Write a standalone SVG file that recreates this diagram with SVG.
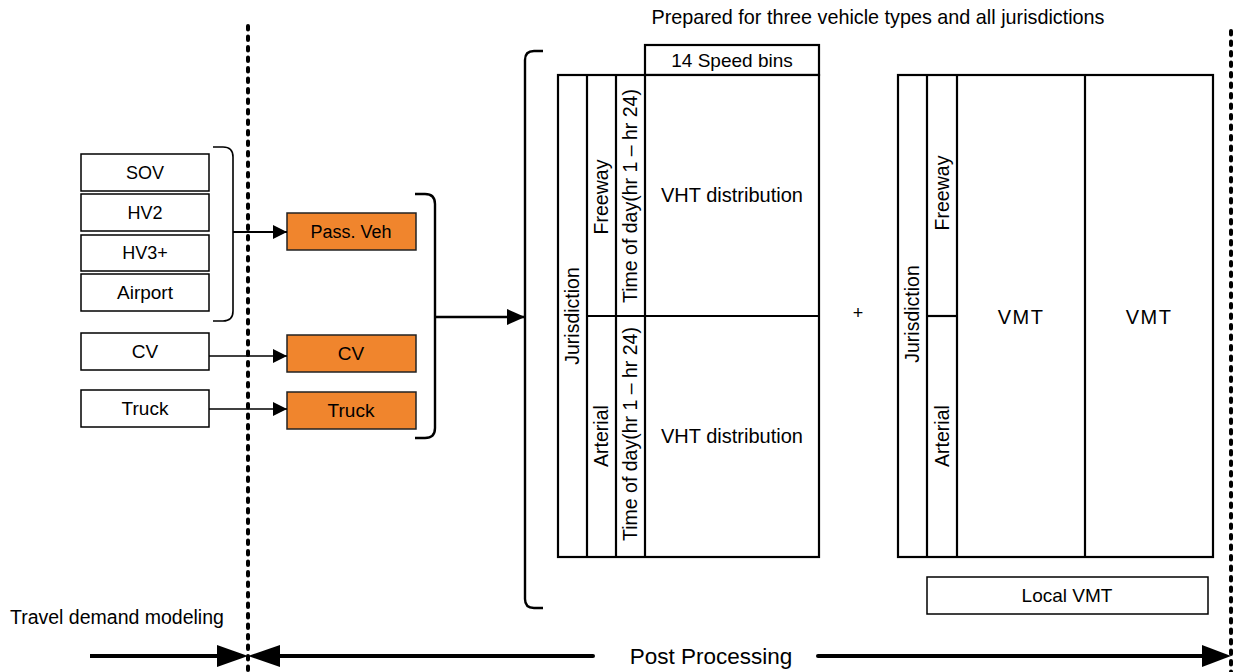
<svg xmlns="http://www.w3.org/2000/svg" width="1233" height="672" viewBox="0 0 1233 672">
<style>
  text { font-family: "Liberation Sans", Arial, sans-serif; fill: #000; }
  .lbl { font-size: 19px; text-anchor: middle; }
  .box { fill: #fff; stroke: #000; stroke-width: 1.5; }
  .obox { fill: #F0852D; stroke: #222; stroke-width: 1.5; }
  .tbl { fill: #fff; stroke: #000; stroke-width: 2.2; }
  .tl { stroke: #000; stroke-width: 2.2; fill: none; }
  .brace { fill: none; stroke: #000; stroke-width: 2; }
  .dots { stroke: #000; stroke-width: 4; stroke-linecap: round; stroke-dasharray: 3.5 7; fill: none; }
  .conn { stroke: #000; fill: none; }
  .big { stroke: #000; stroke-width: 4; fill: none; }
</style>
<defs>
  <marker id="ah" markerUnits="userSpaceOnUse" markerWidth="14" markerHeight="14" refX="14" refY="7" orient="auto">
    <path d="M0,0 L14,7 L0,14 Z" fill="#000"/>
  </marker>
  <marker id="ahBig" markerUnits="userSpaceOnUse" markerWidth="18" markerHeight="16" refX="18" refY="8" orient="auto">
    <path d="M0,0 L18,8 L0,16 Z" fill="#000"/>
  </marker>
</defs>
<rect width="1233" height="672" fill="#fff"/>

<!-- dividers -->
<g id="dividers">
  <line class="dots" x1="248" y1="26" x2="248" y2="672"/>
  <line class="dots" x1="1231" y1="31" x2="1231" y2="672"/>
</g>

<text x="878" y="24" style="font-size:19.8px" text-anchor="middle">Prepared for three vehicle types and all jurisdictions</text>

<!-- input nodes -->
<g id="sov"><rect class="box" x="81" y="154" width="128" height="37"/><text class="lbl" x="145" y="179" style="font-size:18px">SOV</text></g>
<g id="hv2"><rect class="box" x="81" y="194" width="128" height="37"/><text class="lbl" x="145" y="219" style="font-size:18px">HV2</text></g>
<g id="hv3"><rect class="box" x="81" y="235" width="128" height="36"/><text class="lbl" x="145" y="259" style="font-size:18px">HV3+</text></g>
<g id="airport"><rect class="box" x="81" y="274" width="128" height="37"/><text class="lbl" x="145" y="299">Airport</text></g>
<g id="cv-in"><rect class="box" x="81" y="333" width="128" height="37"/><text class="lbl" x="145" y="358">CV</text></g>
<g id="truck-in"><rect class="box" x="81" y="390" width="128" height="37"/><text class="lbl" x="145" y="415">Truck</text></g>

<!-- orange nodes -->
<g id="passveh"><rect class="obox" x="287" y="213" width="129" height="37"/><text class="lbl" x="351" y="238" style="font-size:18px">Pass. Veh</text></g>
<g id="cv-out"><rect class="obox" x="287" y="335" width="129" height="37"/><text class="lbl" x="351" y="360">CV</text></g>
<g id="truck-out"><rect class="obox" x="287" y="392" width="129" height="37"/><text class="lbl" x="351" y="417">Truck</text></g>

<!-- braces -->
<g id="braces">
  <path class="brace" d="M213,147 H223 Q233,147 233,157 V311 Q233,321 223,321 H213" style="stroke-width:1.6"/>
  <path class="brace" d="M415,194 H425 Q435,194 435,204 V428 Q435,438 425,438 H415" style="stroke-width:2.4"/>
  <path class="brace" d="M543,51 H534 Q525,51 525,60 V599 Q525,608 534,608 H543" style="stroke-width:2.4"/>
</g>

<!-- connectors -->
<g id="connectors">
  <line class="conn" x1="233" y1="232" x2="287" y2="232" stroke-width="2" marker-end="url(#ah)"/>
  <line class="conn" x1="209" y1="356" x2="287" y2="356" stroke-width="1.5" marker-end="url(#ah)"/>
  <line class="conn" x1="209" y1="409" x2="287" y2="409" stroke-width="1.5" marker-end="url(#ah)"/>
  <line class="conn" x1="435" y1="317" x2="525" y2="317" stroke-width="2.6" marker-end="url(#ahBig)"/>
</g>

<!-- VHT table -->
<g id="vht-table">
  <rect class="tbl" x="645" y="45" width="174" height="30"/>
  <text class="lbl" x="732" y="67">14 Speed bins</text>
  <rect class="tbl" x="558" y="75" width="261" height="482"/>
  <line class="tl" x1="587" y1="75" x2="587" y2="557"/>
  <line class="tl" x1="616" y1="75" x2="616" y2="557"/>
  <line class="tl" x1="645" y1="75" x2="645" y2="557"/>
  <line class="tl" x1="587" y1="316" x2="819" y2="316"/>
  <text class="lbl" transform="translate(579,316) rotate(-90)" style="font-size:19.5px">Jurisdiction</text>
  <text class="lbl" transform="translate(608,197) rotate(-90)" style="font-size:19.5px">Freeway</text>
  <text class="lbl" transform="translate(608,436) rotate(-90)" style="font-size:19.5px">Arterial</text>
  <text class="lbl" transform="translate(637,196) rotate(-90)" style="font-size:19.5px">Time of day(hr 1 – hr 24)</text>
  <text class="lbl" transform="translate(637,434) rotate(-90)" style="font-size:19.5px">Time of day(hr 1 – hr 24)</text>
  <text class="lbl" x="732" y="202" style="font-size:20px">VHT distribution</text>
  <text class="lbl" x="732" y="443" style="font-size:20px">VHT distribution</text>
</g>

<text x="858" y="319" style="font-size:18px" text-anchor="middle">+</text>

<!-- VMT table -->
<g id="vmt-table">
  <rect class="tbl" x="898" y="75" width="315" height="482"/>
  <line class="tl" x1="927" y1="75" x2="927" y2="557"/>
  <line class="tl" x1="957" y1="75" x2="957" y2="557"/>
  <line class="tl" x1="1085" y1="75" x2="1085" y2="557"/>
  <line class="tl" x1="927" y1="316" x2="957" y2="316"/>
  <text class="lbl" transform="translate(919,314) rotate(-90)" style="font-size:19.5px">Jurisdiction</text>
  <text class="lbl" transform="translate(949,193) rotate(-90)" style="font-size:19.5px">Freeway</text>
  <text class="lbl" transform="translate(949,436) rotate(-90)" style="font-size:19.5px">Arterial</text>
  <text class="lbl" x="1021" y="324" style="font-size:20px;letter-spacing:1.5px">VMT</text>
  <text class="lbl" x="1149" y="324" style="font-size:20px;letter-spacing:1.5px">VMT</text>
</g>
<g id="local-vmt"><rect class="box" x="927" y="577" width="281" height="37"/><text class="lbl" x="1067" y="602">Local VMT</text></g>

<!-- bottom phase arrows -->
<g id="phases">
  <text x="10" y="624" style="font-size:19.5px">Travel demand modeling</text>
  <line class="big" x1="90" y1="656" x2="220" y2="656"/>
  <path d="M217,645 L248,656 L217,667 Z" fill="#000"/>
  <path d="M280,645 L248,656 L280,667 Z" fill="#000"/>
  <line class="big" x1="277" y1="656" x2="593" y2="656" stroke-linecap="round"/>
  <text x="711" y="664" style="font-size:22.5px" text-anchor="middle">Post Processing</text>
  <line class="big" x1="818" y1="656" x2="1205" y2="656" stroke-linecap="round"/>
  <path d="M1202,645 L1231,656 L1202,667 Z" fill="#000"/>
</g>
</svg>
